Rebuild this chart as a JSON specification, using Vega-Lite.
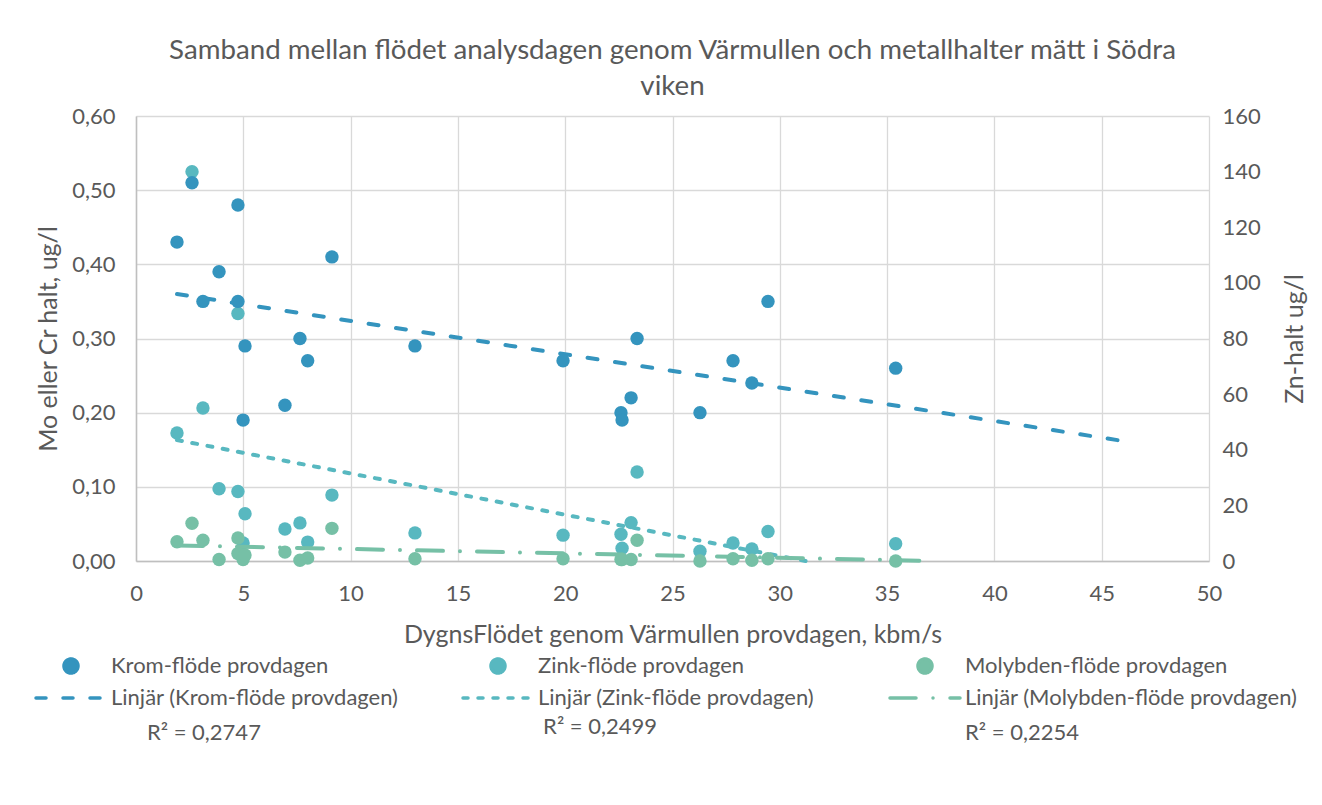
{
  "$schema": "https://vega.github.io/schema/vega-lite/v6.json",
  "width": 1073,
  "height": 445,
  "autosize": {"type": "none"},
  "padding": {"left": 136, "top": 116, "right": 113, "bottom": 244},
  "background": "white",
  "config": {
    "font": "Lato",
    "view": {"stroke": null},
    "axis": {"labelFont": "Lato", "titleFont": "Lato", "labelColor": "#595959", "titleColor": "#595959", "labelFontSize": 22, "titleFontSize": 25, "titleFontWeight": "normal", "ticks": false}
  },
  "title": {
    "text": ["Samband mellan flödet analysdagen genom Värmullen och metallhalter mätt i Södra", "viken"],
    "font": "Lato", "fontSize": 27.7, "fontWeight": "normal", "color": "#595959", "lineHeight": 36, "anchor": "middle", "frame": "group", "offset": 4
  },
  "datasets": {
    "pts": [
      {"serie": "Zink-flöde provdagen", "flow": 2.61, "halt": 140},
      {"serie": "Zink-flöde provdagen", "flow": 1.91, "halt": 46},
      {"serie": "Zink-flöde provdagen", "flow": 3.12, "halt": 55},
      {"serie": "Zink-flöde provdagen", "flow": 4.75, "halt": 89},
      {"serie": "Zink-flöde provdagen", "flow": 3.87, "halt": 26},
      {"serie": "Zink-flöde provdagen", "flow": 4.75, "halt": 25},
      {"serie": "Zink-flöde provdagen", "flow": 5.08, "halt": 17},
      {"serie": "Zink-flöde provdagen", "flow": 6.94, "halt": 11.5},
      {"serie": "Zink-flöde provdagen", "flow": 7.64, "halt": 13.7},
      {"serie": "Zink-flöde provdagen", "flow": 9.13, "halt": 23.7},
      {"serie": "Zink-flöde provdagen", "flow": 8.0, "halt": 6.8},
      {"serie": "Zink-flöde provdagen", "flow": 4.99, "halt": 6.5},
      {"serie": "Zink-flöde provdagen", "flow": 13.0, "halt": 10.1},
      {"serie": "Zink-flöde provdagen", "flow": 19.9, "halt": 9.3},
      {"serie": "Zink-flöde provdagen", "flow": 23.35, "halt": 32},
      {"serie": "Zink-flöde provdagen", "flow": 23.07, "halt": 13.8},
      {"serie": "Zink-flöde provdagen", "flow": 22.6, "halt": 9.6},
      {"serie": "Zink-flöde provdagen", "flow": 22.65, "halt": 4.6},
      {"serie": "Zink-flöde provdagen", "flow": 26.28, "halt": 3.5},
      {"serie": "Zink-flöde provdagen", "flow": 27.82, "halt": 6.5},
      {"serie": "Zink-flöde provdagen", "flow": 28.7, "halt": 4.3},
      {"serie": "Zink-flöde provdagen", "flow": 29.45, "halt": 10.6},
      {"serie": "Zink-flöde provdagen", "flow": 35.4, "halt": 6.2},
      {"serie": "Krom-flöde provdagen", "flow": 1.91, "halt": 0.43},
      {"serie": "Krom-flöde provdagen", "flow": 2.61, "halt": 0.51},
      {"serie": "Krom-flöde provdagen", "flow": 4.75, "halt": 0.48},
      {"serie": "Krom-flöde provdagen", "flow": 3.87, "halt": 0.39},
      {"serie": "Krom-flöde provdagen", "flow": 3.12, "halt": 0.35},
      {"serie": "Krom-flöde provdagen", "flow": 4.75, "halt": 0.35},
      {"serie": "Krom-flöde provdagen", "flow": 9.13, "halt": 0.41},
      {"serie": "Krom-flöde provdagen", "flow": 5.08, "halt": 0.29},
      {"serie": "Krom-flöde provdagen", "flow": 7.64, "halt": 0.30},
      {"serie": "Krom-flöde provdagen", "flow": 8.0, "halt": 0.27},
      {"serie": "Krom-flöde provdagen", "flow": 6.94, "halt": 0.21},
      {"serie": "Krom-flöde provdagen", "flow": 4.99, "halt": 0.19},
      {"serie": "Krom-flöde provdagen", "flow": 13.0, "halt": 0.29},
      {"serie": "Krom-flöde provdagen", "flow": 19.9, "halt": 0.27},
      {"serie": "Krom-flöde provdagen", "flow": 22.6, "halt": 0.20},
      {"serie": "Krom-flöde provdagen", "flow": 22.65, "halt": 0.19},
      {"serie": "Krom-flöde provdagen", "flow": 23.07, "halt": 0.22},
      {"serie": "Krom-flöde provdagen", "flow": 23.35, "halt": 0.30},
      {"serie": "Krom-flöde provdagen", "flow": 26.28, "halt": 0.20},
      {"serie": "Krom-flöde provdagen", "flow": 27.82, "halt": 0.27},
      {"serie": "Krom-flöde provdagen", "flow": 28.7, "halt": 0.24},
      {"serie": "Krom-flöde provdagen", "flow": 29.45, "halt": 0.35},
      {"serie": "Krom-flöde provdagen", "flow": 35.4, "halt": 0.26},
      {"serie": "Molybden-flöde provdagen", "flow": 1.91, "halt": 0.026},
      {"serie": "Molybden-flöde provdagen", "flow": 2.61, "halt": 0.051},
      {"serie": "Molybden-flöde provdagen", "flow": 3.12, "halt": 0.028},
      {"serie": "Molybden-flöde provdagen", "flow": 3.87, "halt": 0.002},
      {"serie": "Molybden-flöde provdagen", "flow": 4.75, "halt": 0.031},
      {"serie": "Molybden-flöde provdagen", "flow": 4.75, "halt": 0.010},
      {"serie": "Molybden-flöde provdagen", "flow": 4.99, "halt": 0.002},
      {"serie": "Molybden-flöde provdagen", "flow": 5.08, "halt": 0.008},
      {"serie": "Molybden-flöde provdagen", "flow": 6.94, "halt": 0.012},
      {"serie": "Molybden-flöde provdagen", "flow": 7.64, "halt": 0.001},
      {"serie": "Molybden-flöde provdagen", "flow": 8.0, "halt": 0.004},
      {"serie": "Molybden-flöde provdagen", "flow": 9.13, "halt": 0.044},
      {"serie": "Molybden-flöde provdagen", "flow": 13.0, "halt": 0.003},
      {"serie": "Molybden-flöde provdagen", "flow": 19.9, "halt": 0.003},
      {"serie": "Molybden-flöde provdagen", "flow": 22.6, "halt": 0.002},
      {"serie": "Molybden-flöde provdagen", "flow": 22.65, "halt": 0.002},
      {"serie": "Molybden-flöde provdagen", "flow": 23.07, "halt": 0.002},
      {"serie": "Molybden-flöde provdagen", "flow": 23.35, "halt": 0.028},
      {"serie": "Molybden-flöde provdagen", "flow": 26.28, "halt": 0.0},
      {"serie": "Molybden-flöde provdagen", "flow": 27.82, "halt": 0.003},
      {"serie": "Molybden-flöde provdagen", "flow": 28.7, "halt": 0.001},
      {"serie": "Molybden-flöde provdagen", "flow": 29.45, "halt": 0.003},
      {"serie": "Molybden-flöde provdagen", "flow": 35.4, "halt": 0.0}
    ],
    "trend": [
      {"serie": "Linjär (Krom-flöde provdagen)", "flow": 1.91, "halt": 0.360},
      {"serie": "Linjär (Krom-flöde provdagen)", "flow": 46.4, "halt": 0.160},
      {"serie": "Linjär (Zink-flöde provdagen)", "flow": 1.91, "halt": 43.5},
      {"serie": "Linjär (Zink-flöde provdagen)", "flow": 31.2, "halt": 0},
      {"serie": "Linjär (Molybden-flöde provdagen)", "flow": 1.91, "halt": 0.021},
      {"serie": "Linjär (Molybden-flöde provdagen)", "flow": 36.5, "halt": 0.0005}
    ],
    "r2": [
      {"note": "R² = 0,2747", "flow": 0.51, "halt": -0.232},
      {"note": "R² = 0,2499", "flow": 18.97, "halt": -0.224},
      {"note": "R² = 0,2254", "flow": 38.63, "halt": -0.232}
    ]
  },
  "encoding": {
    "x": {
      "field": "flow", "type": "quantitative",
      "scale": {"domain": [0, 50], "nice": false},
      "axis": {"values": [0, 5, 10, 15, 20, 25, 30, 35, 40, 45, 50], "title": "DygnsFlödet genom Värmullen provdagen, kbm/s", "grid": true, "gridColor": "#d9d9d9", "gridWidth": 1.3, "domainColor": "#bfbfbf", "domainWidth": 1.5, "labelPadding": 22, "titlePadding": 18, "labelFlush": false}
    },
    "color": {
      "field": "serie", "type": "nominal",
      "scale": {
        "domain": ["Krom-flöde provdagen", "Zink-flöde provdagen", "Molybden-flöde provdagen", "Linjär (Krom-flöde provdagen)", "Linjär (Zink-flöde provdagen)", "Linjär (Molybden-flöde provdagen)"],
        "range": ["#3494be", "#58b8c0", "#76c0a6", "#3494be", "#58b8c0", "#76c0a6"]
      },
      "legend": {
        "title": null, "orient": "none", "legendX": -102, "legendY": 539, "columns": 3, "direction": "horizontal",
        "gridAlign": "all", "columnPadding": 17, "rowPadding": 10, "clipHeight": 22, "padding": 0,
        "symbolSize": 4900, "symbolType": "stroke", "symbolStrokeWidth": 3.5, "symbolOffset": 0,
        "labelFontSize": 22, "labelColor": "#595959", "labelFont": "Lato", "labelOffset": 3, "labelLimit": 600,
        "encode": {
          "symbols": {
            "update": {
              "shape": {"signal": "datum.index < 3 ? 'M -0.2,0 A 0.2,0.2 0 1,0 0.2,0 A 0.2,0.2 0 1,0 -0.2,0 Z' : 'stroke'"},
              "size": {"value": 4900},
              "fill": {"signal": "datum.index < 3 ? scale('color', datum.value) : 'transparent'"},
              "stroke": {"signal": "datum.index < 3 ? 'transparent' : scale('color', datum.value)"},
              "strokeWidth": {"value": 3.5},
              "strokeDash": {"signal": "datum.index == 3 ? [10, 17] : datum.index == 4 ? [5, 10] : datum.index == 5 ? [26, 17, 0.01, 17] : [1, 0]"},
              "strokeCap": {"value": "round"},
              "opacity": {"value": 1}
            }
          }
        }
      }
    }
  },
  "layer": [
    {
      "encoding": {
        "y": {
          "field": "halt", "type": "quantitative",
          "scale": {"domain": [0, 160], "nice": false},
          "axis": {"orient": "right", "values": [0, 20, 40, 60, 80, 100, 120, 140, 160], "title": "Zn-halt ug/l", "grid": false, "domain": false, "labelPadding": 13, "titlePadding": 22, "titleAngle": 270, "titleBaseline": "top"}
        }
      },
      "layer": [
        {
          "data": {"name": "trend"},
          "transform": [{"filter": "datum.serie == 'Linjär (Zink-flöde provdagen)'"}],
          "mark": {"type": "line", "strokeWidth": 4, "strokeDash": [5, 10.5], "strokeCap": "round"}
        },
        {
          "data": {"name": "pts"},
          "transform": [{"filter": "datum.serie == 'Zink-flöde provdagen'"}],
          "mark": {"type": "point", "filled": true, "size": 180, "opacity": 1}
        }
      ]
    },
    {
      "encoding": {
        "y": {
          "field": "halt", "type": "quantitative",
          "scale": {"domain": [0, 0.6], "nice": false},
          "axis": {"orient": "left", "values": [0, 0.1, 0.2, 0.3, 0.4, 0.5, 0.6], "labelExpr": "replace(format(datum.value, '.2f'), '.', ',')", "title": "Mo eller Cr halt, ug/l", "grid": true, "gridColor": "#d9d9d9", "gridWidth": 1.3, "domainColor": "#bfbfbf", "domainWidth": 1.5, "labelPadding": 21, "titlePadding": 10}
        }
      },
      "layer": [
        {
          "data": {"name": "trend"},
          "transform": [{"filter": "datum.serie == 'Linjär (Krom-flöde provdagen)'"}],
          "mark": {"type": "line", "strokeWidth": 4, "strokeDash": [10, 17.7], "strokeCap": "round"}
        },
        {
          "data": {"name": "trend"},
          "transform": [{"filter": "datum.serie == 'Linjär (Molybden-flöde provdagen)'"}],
          "mark": {"type": "line", "strokeWidth": 4, "strokeDash": [26, 17, 0.01, 17], "strokeCap": "round"}
        },
        {
          "data": {"name": "pts"},
          "transform": [{"filter": "datum.serie != 'Zink-flöde provdagen'"}],
          "mark": {"type": "point", "filled": true, "size": 180, "opacity": 1}
        },
        {
          "data": {"name": "r2"},
          "mark": {"type": "text", "align": "left", "baseline": "middle", "fontSize": 22, "font": "Lato", "fill": "#595959"},
          "encoding": {
            "color": {"value": "#595959"},
            "text": {"field": "note"}
          }
        }
      ]
    }
  ],
  "resolve": {"scale": {"y": "independent"}}
}
